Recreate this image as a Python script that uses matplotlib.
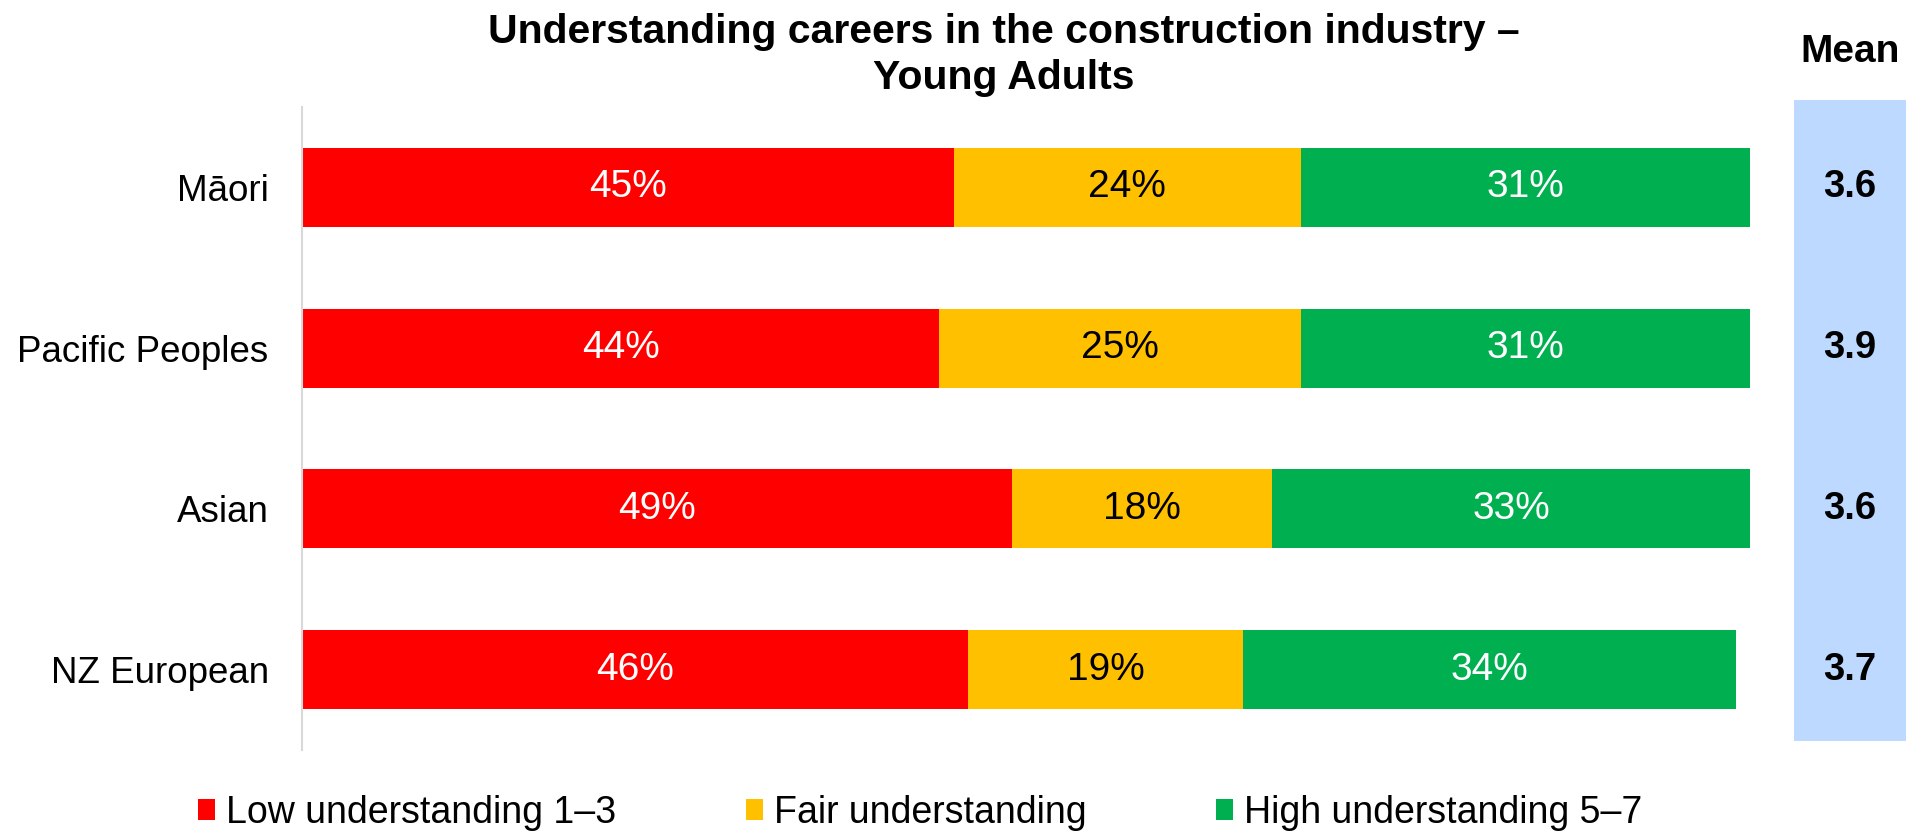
import matplotlib.pyplot as plt
from matplotlib.patches import Patch
from matplotlib.transforms import blended_transform_factory

plt.rcParams['font.family'] = ['Liberation Sans', 'DejaVu Sans']

# Survey results by ethnicity (percent of respondents)
groups = ['Māori', 'Pacific Peoples', 'Asian', 'NZ European']
low = [45, 44, 49, 46]
fair = [24, 25, 18, 19]
high = [31, 31, 33, 34]
means = [3.6, 3.9, 3.6, 3.7]

series_names = ['Low understanding 1–3', 'Fair understanding', 'High understanding 5–7']
series_colors = ['#FF0000', '#FFC000', '#00B050']
label_colors = ['white', 'black', 'white']

W, H = 1911, 834
fig = plt.figure(figsize=(W / 100, H / 100), dpi=100)

ax = fig.add_axes([302 / W, 1 - 750 / H, 1448 / W, 643 / H])
ypos = list(range(len(groups)))

left = [0] * len(groups)
for vals, color, tcolor in zip([low, fair, high], series_colors, label_colors):
    ax.barh(ypos, vals, left=left, height=0.49, color=color, edgecolor='none')
    for y, l, v in zip(ypos, left, vals):
        ax.text(l + v / 2, y, f'{v}%', ha='center', va='center',
                fontsize=28, color=tcolor)
    left = [l + v for l, v in zip(left, vals)]

ax.set_xlim(0, 100)
ax.set_ylim(len(groups) - 0.5, -0.5)
ax.set_yticks(ypos)
ax.set_yticklabels(groups, fontsize=26.5)
ax.tick_params(axis='y', length=0, pad=24)
ax.set_xticks([])
for side in ['top', 'right', 'bottom']:
    ax.spines[side].set_visible(False)
ax.spines['left'].set_color('#D9D9D9')
ax.spines['left'].set_linewidth(1.5)

# mean score column
mean_ax = fig.add_axes([1794 / W, 1 - 741 / H, 112 / W, 641 / H])
mean_ax.set_facecolor('#BDD9FF')
mean_ax.set_xticks([])
mean_ax.set_yticks([])
for s in mean_ax.spines.values():
    s.set_visible(False)
trans = blended_transform_factory(mean_ax.transAxes, ax.transData)
for y, m in zip(ypos, means):
    fig.text(0.5, y, f'{m:.1f}', transform=trans, ha='center', va='center',
             fontsize=27.5, fontweight='bold')
fig.text(1850 / W, 1 - 52 / H, 'Mean', ha='center', va='center',
         fontsize=28, fontweight='bold')

fig.text(1004 / W, 1 - 55 / H,
         'Understanding careers in the construction industry –\nYoung Adults',
         ha='center', va='center', fontsize=29.5, fontweight='bold', linespacing=1.25)

handles = [Patch(facecolor=c, edgecolor='none') for c in series_colors]
fig.legend(handles, series_names, loc='center left',
           bbox_to_anchor=(198 / W, 1 - 813 / H), ncol=3, frameon=False,
           fontsize=27, handlelength=0.45, handleheight=0.5, handletextpad=0.3,
           columnspacing=3.45, borderpad=0, borderaxespad=0)

fig.savefig('out.png', dpi=100)
